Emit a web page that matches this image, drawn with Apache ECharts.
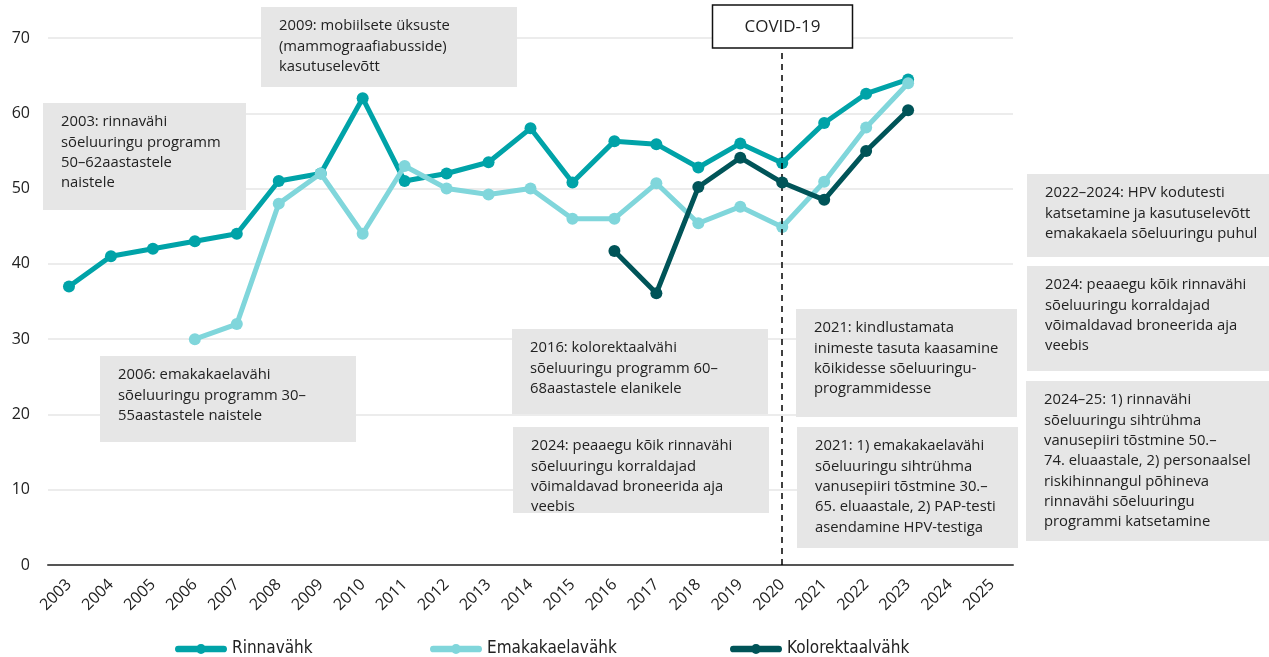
<!DOCTYPE html>
<html>
<head>
<meta charset="utf-8">
<script src="https://cdn.jsdelivr.net/npm/echarts@6/dist/echarts.min.js"></script>
<style>
  body { margin: 0; padding: 0; background: #fff; }
  #chart { width: 1269px; height: 657px; }
</style>
</head>
<body>
<div id="chart"></div>
<script>
// aastad
const years = ["2003", "2004", "2005", "2006", "2007", "2008", "2009", "2010", "2011", "2012",
  "2013", "2014", "2015", "2016", "2017", "2018", "2019", "2020", "2021", "2022", "2023", "2024", "2025"];

// sõeluuringus osalemine, %
const rinnavahk = [37, 41, 42, 43, 44, 51, 52, 62, 51, 52, 53.5, 58, 50.8, 56.3, 55.9, 52.8, 56, 53.4, 58.7, 62.6, 64.5, null, null];
const emakakaelavahk = [null, null, null, 30, 32, 48, 52, 44, 53, 50, 49.2, 50, 46, 46, 50.7, 45.4, 47.6, 44.9, 50.9, 58.1, 64, null, null];
const kolorektaalvahk = [null, null, null, null, null, null, null, null, null, null, null, null, null,
  41.7, 36.1, 50.2, 54.1, 50.8, 48.5, 55, 60.4, null, null];

const seriesNames = ["Rinnavähk", "Emakakaelavähk", "Kolorektaalvähk"];
const colors = ["#00a3a8", "#80d6db", "#005458"];

// märkuste kastid: [x, y, laius, kõrgus]
const notes = [
  { box: [43, 103, 203, 107], text: "2003: rinnavähi\nsõeluuringu programm\n50–62aastastele\nnaistele" },
  { box: [261, 7, 256, 80], text: "2009: mobiilsete üksuste\n(mammograafiabusside)\nkasutuselevõtt" },
  { box: [100, 356, 256, 86], text: "2006: emakakaelavähi\nsõeluuringu programm 30–\n55aastastele naistele" },
  { box: [512, 329, 256, 85], text: "2016: kolorektaalvähi\nsõeluuringu programm 60–\n68aastastele elanikele" },
  { box: [513, 427, 256, 86], text: "2024: peaaegu kõik rinnavähi\nsõeluuringu korraldajad\nvõimaldavad broneerida aja\nveebis", clip: true },
  { box: [796, 309, 221, 108], text: "2021: kindlustamata\ninimeste tasuta kaasamine\nkõikidesse sõeluuringu-\nprogrammidesse" },
  { box: [797, 427, 221, 121], text: "2021: 1) emakakaelavähi\nsõeluuringu sihtrühma\nvanusepiiri tõstmine 30.–\n65. eluaastale, 2) PAP-testi\nasendamine HPV-testiga" },
  { box: [1027, 174, 250, 83], text: "2022–2024: HPV kodutesti\nkatsetamine ja kasutuselevõtt\nemakakaela sõeluuringu puhul" },
  { box: [1027, 266, 250, 105], text: "2024: peaaegu kõik rinnavähi\nsõeluuringu korraldajad\nvõimaldavad broneerida aja\nveebis" },
  { box: [1026, 381, 250, 160], text: "2024–25: 1) rinnavähi\nsõeluuringu sihtrühma\nvanusepiiri tõstmine 50.–\n74. eluaastale, 2) personaalsel\nriskihinnangul põhineva\nrinnavähi sõeluuringu\nprogrammi katsetamine" }
];

const font = "'Open Sans', 'Noto Sans', sans-serif";

const graphics = [];
notes.forEach((n) => {
  const [x, y, w, h] = n.box;
  graphics.push({ type: "rect", z: 1, silent: true, shape: { x: x, y: y, width: w, height: h }, style: { fill: "#e6e6e6" } });
  graphics.push({
    type: "text", z: 2, silent: true, x: x + 18, y: y + 9,
    style: { text: n.text, fill: "#222", font: "14.8px " + font, lineHeight: 20.3, verticalAlign: "top", align: "left" }
  });
  if (n.clip) {
    graphics.push({ type: "rect", z: 3, silent: true, shape: { x: x, y: y + h, width: w, height: 10 }, style: { fill: "#fff" } });
  }
});
graphics.push({ type: "rect", z: 20, silent: true, shape: { x: 712.5, y: 5, width: 140, height: 43 }, style: { fill: "#fff", stroke: "#111", lineWidth: 1.5 } });
graphics.push({ type: "text", z: 21, silent: true, x: 782.5, y: 27, style: { text: "COVID-19", fill: "#222", font: "17px " + font, align: "center", verticalAlign: "middle" } });

const dataSets = [rinnavahk, emakakaelavahk, kolorektaalvahk];
const series = dataSets.map((d, i) => ({
  name: seriesNames[i],
  type: "line",
  data: d,
  symbol: "circle",
  symbolSize: 12,
  connectNulls: false,
  lineStyle: { width: 5, color: colors[i] },
  itemStyle: { color: colors[i] },
  z: 3 + i
}));
series[2].markLine = {
  silent: true,
  symbol: "none",
  label: { show: false },
  lineStyle: { color: "#000", type: [6, 5], width: 1.5 },
  data: [{ xAxis: "2020" }]
};

// legendi ikoon: paks ümarate otstega joon ja täpp keskel
const legendIcon = "path://M3.3,1.65L48.7,1.65A3.35,3.35 0 0 1 48.7,8.35L3.3,8.35A3.35,3.35 0 0 1 3.3,1.65Z" +
  "M21,5A5,5 0 1 1 31,5A5,5 0 1 1 21,5Z";
const legendLeft = [175, 430, 730];
const legends = seriesNames.map((name, i) => ({
  data: [name],
  left: legendLeft[i],
  top: 638,
  padding: 0,
  icon: legendIcon,
  itemWidth: 52,
  itemHeight: 10,
  textStyle: { fontSize: 17, lineHeight: 22, color: "#222", fontFamily: "'Liberation Sans Narrow', 'DejaVu Sans Condensed', 'Open Sans', sans-serif" }
}));

const chart = echarts.init(document.getElementById("chart"));
chart.setOption({
  animation: false,
  color: colors,
  textStyle: { fontFamily: font },
  grid: { left: 48, right: 256, top: 38, bottom: 92, containLabel: false },
  legend: legends,
  xAxis: {
    type: "category",
    data: years,
    boundaryGap: true,
    axisTick: { show: false },
    axisLine: { lineStyle: { color: "#555", width: 2 } },
    axisLabel: { rotate: 45, interval: 0, fontSize: 16, color: "#222", margin: 17 }
  },
  yAxis: {
    type: "value",
    min: 0,
    max: 70,
    interval: 10,
    axisLine: { show: false },
    axisTick: { show: false },
    axisLabel: { fontSize: 16, color: "#222", margin: 18 },
    splitLine: { lineStyle: { color: "#e6e6e6", width: 1.5 } }
  },
  graphic: graphics,
  series: series
});
</script>
</body>
</html>
